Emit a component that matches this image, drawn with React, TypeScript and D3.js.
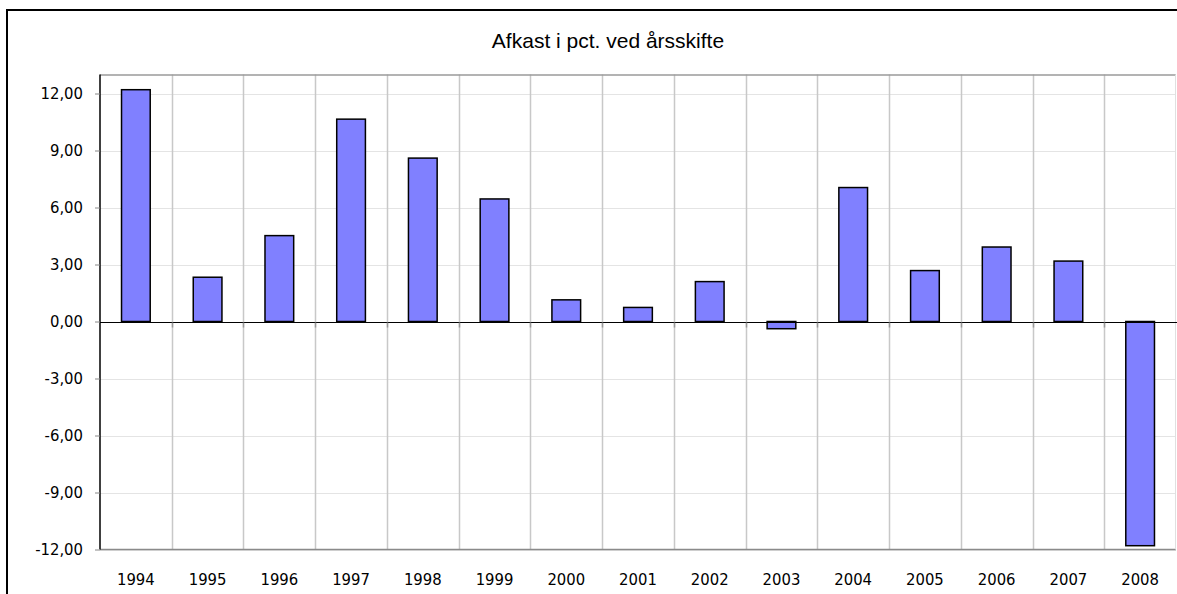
import { useEffect, useRef } from 'react';
import * as d3 from 'd3';

const years = ['1994', '1995', '1996', '1997', '1998', '1999', '2000', '2001', '2002', '2003', '2004', '2005', '2006', '2007', '2008'];
const returns = [12.2, 2.33, 4.52, 10.65, 8.6, 6.45, 1.14, 0.74, 2.1, -0.38, 7.05, 2.68, 3.92, 3.18, -11.8];
const yTicks = [-12, -9, -6, -3, 0, 3, 6, 9, 12];
const chartTitle = 'Afkast i pct. ved årsskifte';

export default function App() {
  const svgRef = useRef<SVGSVGElement>(null);

  useEffect(() => {
    if (!svgRef.current) return;
    const svg = d3.select(svgRef.current);
    svg.selectAll('*').remove();

    const W = 1177;
    const H = 594;
    const plot = { left: 100, top: 74.5, right: 1176, bottom: 549.5 };
    const labelFont = '"DejaVu Sans Condensed", "DejaVu Sans", sans-serif';

    svg.append('rect').attr('width', W).attr('height', H).attr('fill', '#fff');

    // outer frame, only left and top edges are inside the picture
    svg.append('path')
      .attr('d', `M7,${H}V10H${W}`)
      .attr('fill', 'none').attr('stroke', '#000').attr('stroke-width', 2);

    svg.append('text')
      .attr('x', 608).attr('y', 48)
      .attr('text-anchor', 'middle')
      .attr('font-family', '"Liberation Sans", Arial, sans-serif')
      .attr('font-size', 21)
      .attr('fill', '#000')
      .text(chartTitle);

    const x = d3.scaleBand<string>()
      .domain(years)
      .range([plot.left, plot.right])
      .padding(0);

    const y = d3.scaleLinear()
      .domain([-12, 13])
      .range([plot.bottom, plot.top]);

    const g = svg.append('g');

    // horizontal grid
    g.append('g').selectAll('line')
      .data(yTicks)
      .join('line')
      .attr('x1', plot.left).attr('x2', plot.right)
      .attr('y1', d => Math.round(y(d)) + 0.5).attr('y2', d => Math.round(y(d)) + 0.5)
      .attr('stroke', '#e4e4e4').attr('stroke-width', 1);

    // vertical grid between categories
    g.append('g').selectAll('line')
      .data(years.slice(1))
      .join('line')
      .attr('x1', d => Math.round(x(d)!) + 0.5).attr('x2', d => Math.round(x(d)!) + 0.5)
      .attr('y1', plot.top).attr('y2', plot.bottom)
      .attr('stroke', '#c8c8c8').attr('stroke-width', 1.5);

    // plot border
    g.append('line')
      .attr('x1', plot.left).attr('x2', plot.right)
      .attr('y1', plot.top + 0.5).attr('y2', plot.top + 0.5)
      .attr('stroke', '#9a9a9a').attr('stroke-width', 1.5);
    g.append('line')
      .attr('x1', plot.left).attr('x2', plot.right)
      .attr('y1', plot.bottom).attr('y2', plot.bottom)
      .attr('stroke', '#8a8a8a').attr('stroke-width', 1.5);
    g.append('line')
      .attr('x1', plot.right - 0.5).attr('x2', plot.right - 0.5)
      .attr('y1', plot.top).attr('y2', plot.bottom)
      .attr('stroke', '#e0e0e0').attr('stroke-width', 1);

    // bars
    const bw = x.bandwidth() * 0.4;
    g.append('g').selectAll('rect')
      .data(years.map((yr, i) => ({ yr, v: returns[i] })))
      .join('rect')
      .attr('x', d => x(d.yr)! + (x.bandwidth() - bw) / 2)
      .attr('y', d => y(Math.max(0, d.v)))
      .attr('width', bw)
      .attr('height', d => Math.abs(y(d.v) - y(0)))
      .attr('fill', '#8080ff')
      .attr('stroke', '#000')
      .attr('stroke-width', 1.5);

    // zero line with category ticks
    const y0 = Math.round(y(0)) + 0.5;
    g.append('line')
      .attr('x1', plot.left).attr('x2', W)
      .attr('y1', y0).attr('y2', y0)
      .attr('stroke', '#000').attr('stroke-width', 1.2);
    g.append('g').selectAll('line')
      .data(years.slice(1))
      .join('line')
      .attr('x1', d => Math.round(x(d)!) + 0.5).attr('x2', d => Math.round(x(d)!) + 0.5)
      .attr('y1', y0).attr('y2', y0 + 5)
      .attr('stroke', '#999').attr('stroke-width', 1.5);

    // y axis
    const yAxis = d3.axisLeft(y)
      .tickValues(yTicks)
      .tickSize(5)
      .tickPadding(12)
      .tickFormat(d => d3.format('.2f')(d as number).replace('.', ',').replace('−', '-'));
    const ya = svg.append('g')
      .attr('transform', `translate(${plot.left},0)`)
      .call(yAxis);
    ya.select('.domain').attr('stroke', '#000').attr('stroke-width', 1.5)
      .attr('d', `M0,${plot.top}V${plot.bottom}`);
    ya.selectAll('.tick line').attr('stroke', '#888');
    ya.selectAll('.tick text')
      .attr('font-family', labelFont)
      .attr('font-size', 16.5)
      .attr('fill', '#000');

    // x labels
    svg.append('g').selectAll('text')
      .data(years)
      .join('text')
      .attr('x', d => x(d)! + x.bandwidth() / 2)
      .attr('y', 585)
      .attr('text-anchor', 'middle')
      .attr('font-family', labelFont)
      .attr('font-size', 16.5)
      .attr('fill', '#000')
      .text(d => d);
  }, []);

  return (
    <svg
      ref={svgRef}
      width={1177}
      height={594}
      style={{ position: 'absolute', left: 0, top: 0, display: 'block' }}
    />
  );
}
